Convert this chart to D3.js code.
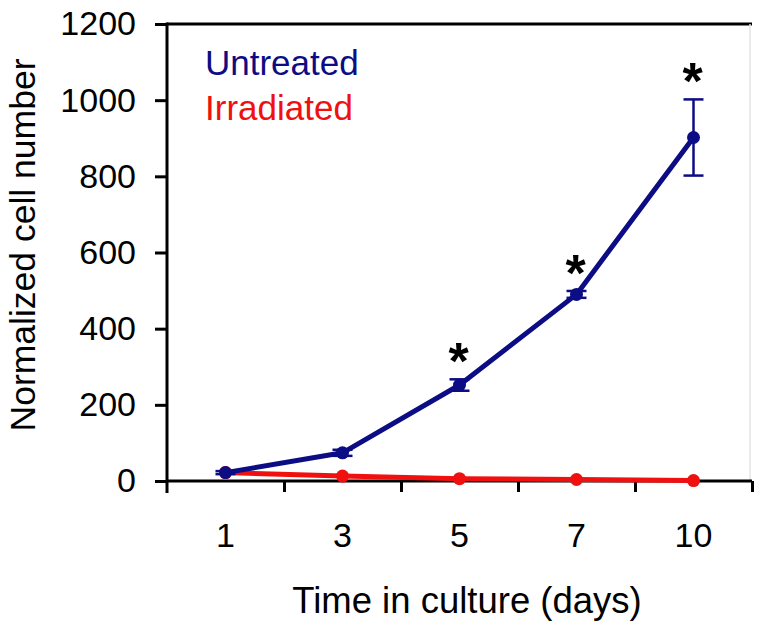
<!DOCTYPE html>
<html>
<head>
<meta charset="utf-8">
<script src="https://cdn.jsdelivr.net/npm/d3@7"></script>
<style>
  html, body { margin: 0; padding: 0; background: #fff; }
  svg { display: block; font-family: "Liberation Sans", Arial, Helvetica, sans-serif; }
</style>
</head>
<body>
<svg id="chart" width="766" height="634"></svg>
<script>
const categories = ["1", "3", "5", "7", "10"];
const untreated = [22, 74, 252, 490, 902];
const untreatedErr = [4, 8, 15, 9, 100];
const irradiated = [22, 13, 6, 4, 1];
const significant = [false, false, true, true, true];
const yTicks = [0, 200, 400, 600, 800, 1000, 1200];
const seriesNames = ["Untreated", "Irradiated"];

const blue = "#0c0c84";
const red = "#f01010";

const svg = d3.select("#chart");
const plotL = 167, plotR = 752, plotT = 24, plotB = 481;

const x = d3.scaleBand().domain(categories).range([plotL, plotR]).padding(0);
const xEdge = d3.scaleLinear().domain([0, categories.length]).range([plotL, plotR]);
const y = d3.scaleLinear().domain([0, 1200]).range([plotB, plotT]);
const cx = c => x(c) + x.bandwidth() / 2;

// top border and faint right border
svg.append("line").attr("x1", plotL).attr("x2", plotR).attr("y1", plotT).attr("y2", plotT)
  .attr("stroke", "#000").attr("stroke-width", 3);
svg.append("line").attr("x1", plotR - 2).attr("x2", plotR - 2).attr("y1", plotT).attr("y2", plotB)
  .attr("stroke", "#e4e4e4").attr("stroke-width", 1.5);

// y axis
const yAxis = svg.append("g").attr("transform", `translate(${plotL},0)`)
  .call(d3.axisLeft(y).tickValues(yTicks).tickFormat(d3.format("d")).tickSize(12).tickPadding(19).tickSizeOuter(0));
yAxis.select(".domain").remove();
yAxis.selectAll(".tick line").attr("stroke", "#000").attr("stroke-width", 3);
yAxis.selectAll(".tick text").attr("font-size", 34).attr("fill", "#000")
  .attr("font-family", "'Liberation Sans', Arial, sans-serif");
svg.append("line").attr("x1", plotL).attr("x2", plotL).attr("y1", plotT - 1.5).attr("y2", plotB + 12)
  .attr("stroke", "#000").attr("stroke-width", 3);

// x axis: edge ticks
const xTickAxis = svg.append("g").attr("transform", `translate(0,${plotB})`)
  .call(d3.axisBottom(xEdge).tickValues(d3.range(1, categories.length + 1)).tickSize(11).tickFormat("").tickSizeOuter(0));
xTickAxis.select(".domain").remove();
xTickAxis.selectAll(".tick line").attr("stroke", "#000").attr("stroke-width", 3);
svg.append("line").attr("x1", plotL).attr("x2", plotR).attr("y1", plotB).attr("y2", plotB)
  .attr("stroke", "#000").attr("stroke-width", 3);

// x axis labels
const xAxis = svg.append("g").attr("transform", `translate(0,${plotB})`)
  .call(d3.axisBottom(x).tickSize(0).tickPadding(42));
xAxis.select(".domain").remove();
xAxis.selectAll(".tick text").attr("font-size", 34).attr("fill", "#000")
  .attr("font-family", "'Liberation Sans', Arial, sans-serif");

// axis titles
svg.append("text").attr("x", 467).attr("y", 613).attr("text-anchor", "middle")
  .attr("font-size", 36.5).attr("fill", "#000").text("Time in culture (days)");
svg.append("text").attr("transform", "translate(35,245) rotate(-90)").attr("text-anchor", "middle")
  .attr("font-size", 35.5).attr("fill", "#000").text("Normalized cell number");

// irradiated series
const line = d3.line().x((d, i) => cx(categories[i])).y(d => y(d));
svg.append("path").datum(irradiated).attr("d", line).attr("fill", "none")
  .attr("stroke", red).attr("stroke-width", 5).attr("stroke-linejoin", "round");
svg.selectAll(".redpt").data(irradiated).enter().append("circle")
  .attr("cx", (d, i) => cx(categories[i])).attr("cy", d => y(d)).attr("r", 6.5).attr("fill", red);

// untreated series
svg.append("path").datum(untreated).attr("d", line).attr("fill", "none")
  .attr("stroke", blue).attr("stroke-width", 5).attr("stroke-linejoin", "round");
const eb = svg.append("g").attr("stroke", blue).attr("stroke-width", 2.5);
untreated.forEach((v, i) => {
  const px = cx(categories[i]);
  const e = untreatedErr[i];
  eb.append("line").attr("x1", px).attr("x2", px).attr("y1", y(v - e)).attr("y2", y(v + e));
  eb.append("line").attr("x1", px - 10).attr("x2", px + 10).attr("y1", y(v - e)).attr("y2", y(v - e));
  eb.append("line").attr("x1", px - 10).attr("x2", px + 10).attr("y1", y(v + e)).attr("y2", y(v + e));
});
svg.selectAll(".bluept").data(untreated).enter().append("circle")
  .attr("cx", (d, i) => cx(categories[i])).attr("cy", d => y(d)).attr("r", 6.5).attr("fill", blue);

// significance asterisks
untreated.forEach((v, i) => {
  if (!significant[i]) return;
  svg.append("text").attr("x", cx(categories[i]) - 1).attr("y", y(v + untreatedErr[i]))
    .attr("text-anchor", "middle").attr("font-size", 52).attr("font-weight", "bold")
    .attr("fill", "#000").text("*");
});

// legend
svg.append("text").attr("x", 205).attr("y", 75).attr("font-size", 35).attr("fill", blue).text(seriesNames[0]);
svg.append("text").attr("x", 205).attr("y", 120).attr("font-size", 35).attr("fill", red).text(seriesNames[1]);
</script>
</body>
</html>
